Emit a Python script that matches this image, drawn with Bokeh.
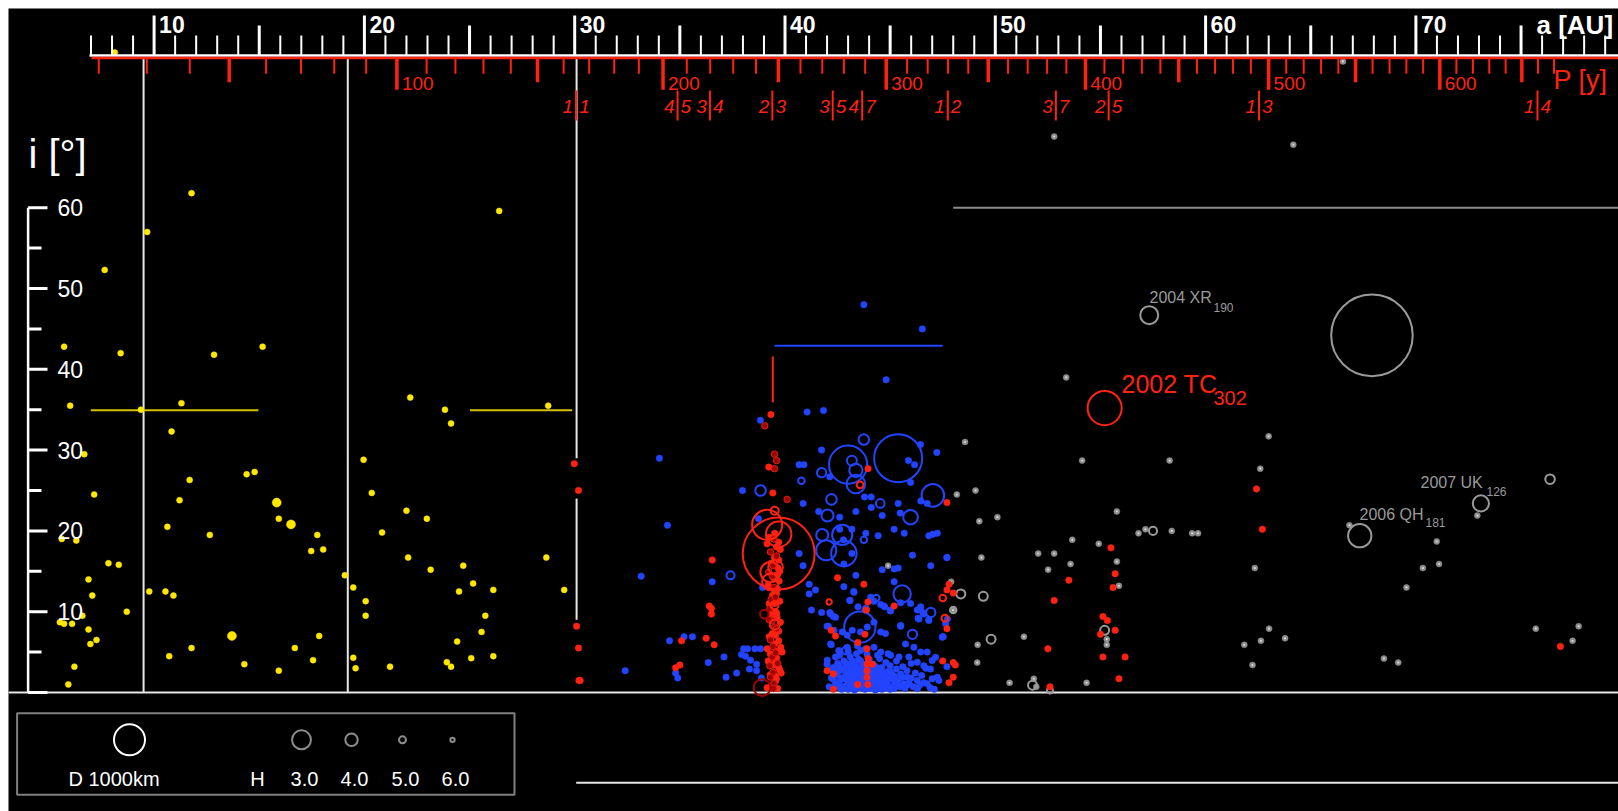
from bokeh.plotting import figure
from bokeh.models import Range1d
from bokeh.core.properties import value
from bokeh.embed import file_html
from bokeh.resources import INLINE

FONT = value("Liberation Sans")

# ---------------- data ----------------
# centaurs (yellow)
yel_a = [9.67, 11.78, 7.65, 5.72, 8.41, 6.01, 9.37, 11.30, 12.85, 15.16, 10.83, 6.68, 11.69, 14.40, 14.78,
         7.15, 11.21, 15.93, 10.63, 12.65, 17.76, 5.61, 6.30, 17.47, 18.04, 7.83, 8.32, 6.88, 19.07, 7.06,
         9.77, 10.54, 10.92, 19.47, 8.70, 6.59, 5.52, 5.72, 6.10, 6.88, 7.26, 6.97, 17.85, 16.69, 11.78,
         10.72, 14.29, 17.56, 15.93, 6.21, 5.92, 20.06, 20.06, 19.47, 19.58, 21.22, 26.41, 22.18, 23.83,
         24.12, 28.74, 19.96, 20.35, 22.00, 22.97, 20.84, 22.08, 23.15, 24.70, 28.65, 25.17, 24.50, 26.13,
         29.50, 25.75, 25.57, 24.41, 23.92, 24.12, 25.08, 26.13, 8.13]
yel_i = [57.0, 61.8, 52.3, 42.8, 42.0, 35.5, 35.0, 35.8, 41.8, 42.8, 32.3, 29.5, 26.3, 27.0, 27.3,
         24.5, 23.8, 21.5, 20.5, 19.5, 19.5, 19.0, 18.8, 17.5, 17.7, 16.0, 15.8, 14.0, 14.5, 12.0,
         12.5, 12.5, 12.0, 13.0, 10.0, 9.5, 8.7, 8.5, 8.5, 7.8, 6.5, 6.0, 7.0, 5.5, 5.5,
         4.5, 3.5, 4.0, 2.7, 3.2, 1.0, 11.3, 9.5, 4.3, 3.0, 3.2, 59.6, 36.5, 35.0,
         33.3, 35.5, 28.8, 24.7, 22.5, 21.5, 19.8, 16.7, 15.2, 15.7, 16.7, 13.5, 12.5, 12.7,
         12.7, 9.5, 7.5, 6.3, 3.75, 3.2, 4.25, 4.5, 79.2]
yel_big_a = [15.83, 16.51, 13.70]
yel_big_i = [23.5, 20.8, 7.0]

# resonant objects (red)
red_a = [29.98, 30.18, 30.09, 30.18, 30.20, 30.26,
         39.33, 39.23, 39.42, 36.54, 36.40, 36.50, 36.50, 36.25, 36.63, 35.08, 34.80, 35.00,
         42.50, 43.75, 43.95, 47.70, 43.94, 43.86, 45.19, 42.20, 42.40, 43.46, 43.90, 43.95,
         43.90, 44.15, 43.90, 43.90, 42.00, 42.30, 43.46, 43.94, 42.30, 47.80, 47.70, 48.00,
         47.70, 47.50, 48.00, 48.10, 48.00, 47.80, 43.80,
         55.50, 53.50, 55.70, 55.60, 52.80, 55.12, 55.33, 55.70, 55.00, 52.50, 55.12, 56.17,
         55.88, 52.60, 62.42, 62.70, 76.87,
         39.51, 39.70, 39.15, 39.78, 39.50, 39.70, 39.66, 39.55, 39.59, 39.51, 39.62, 39.78,
         39.55, 39.70, 39.15, 39.66, 39.86, 39.55, 39.70, 39.82, 39.59, 39.15,
         39.25, 39.60, 39.35, 39.75, 39.45, 39.20, 39.65, 39.40, 39.75, 39.25, 39.55, 39.35,
         39.70, 39.25, 39.50, 39.80, 39.30, 39.60, 39.20, 39.45, 39.75, 39.30, 39.55, 39.35,
         39.65, 39.50, 39.60, 39.40, 39.55, 39.72]
red_i = [28.3, 25.0, 8.2, 5.5, 1.5, 1.5,
         34.4, 27.9, 24.7, 16.4, 10.7, 10.4, 9.7, 6.7, 5.9, 6.4, 3.05, 3.4,
         14.2, 13.4, 27.7, 23.5, 11.2, 10.2, 10.7, 7.7, 7.0, 6.2, 5.4, 4.2,
         3.5, 3.5, 2.7, 1.9, 2.7, 2.3, 1.0, 1.0, 0.4, 13.4, 12.7, 12.3,
         7.9, 3.9, 3.7, 3.4, 1.9, 1.2, 7.2,
         17.9, 13.9, 14.7, 13.0, 11.4, 9.4, 8.9, 7.7, 7.2, 5.4, 4.4, 4.4,
         1.7, 0.7, 25.2, 20.2, 5.7,
         19.7, 18.6, 18.4, 17.7, 16.7, 16.4, 15.4, 14.5, 12.2, 11.0, 9.3, 8.7,
         7.1, 6.4, 5.4, 5.1, 5.0, 3.8, 3.1, 2.4, 1.7, 0.6,
         19.2, 18.0, 16.0, 15.0, 14.2, 13.3, 12.8, 12.0, 11.3, 11.0, 10.0, 9.6,
         7.6, 6.9, 6.0, 5.6, 4.8, 4.3, 3.9, 3.4, 2.8, 2.2, 1.4, 0.8,
         0.5, 12.6, 9.8, 7.3, 2.0, 13.8]
dred_a = [39.04, 39.50, 39.60, 39.50, 40.10, 39.47, 39.31, 39.43, 39.23, 39.47, 39.34, 39.28,
          39.39, 39.50, 39.31, 39.43, 39.39, 39.28, 39.43, 39.31, 39.47,
          39.60, 39.40, 39.55, 39.60, 39.55, 39.65, 39.25, 39.45]
dred_i = [33.0, 29.5, 28.7, 27.7, 23.9, 19.0, 17.4, 15.7, 14.9, 13.0, 11.5, 10.4,
          8.9, 8.1, 6.5, 5.7, 4.4, 3.3, 2.5, 1.9, 1.1,
          16.9, 14.4, 11.8, 7.9, 4.9, 3.6, 9.0, 0.5]

# classical objects (blue)
blue_a = [34.03, 34.41, 33.16, 32.40, 34.51, 35.20, 35.60, 34.80, 34.90, 36.35, 37.10, 37.20, 37.70,
          36.54, 37.98, 38.03, 38.22, 38.57, 38.84, 37.93, 38.12, 38.36, 38.65, 38.65, 38.88, 38.31,
          38.74, 38.93, 41.05, 41.83, 41.74, 42.13, 40.67, 40.90, 40.86, 41.60, 40.67, 40.86, 41.15,
          41.45, 41.15, 41.26, 41.74, 42.13, 42.30, 42.00, 42.20, 42.00, 42.40, 42.60, 43.37, 43.78,
          44.10, 44.10, 44.62, 45.19, 45.67, 45.38, 45.48, 46.44, 47.22, 45.87, 46.16, 45.97, 46.46,
          46.76, 46.84, 47.03, 47.24, 46.06, 46.93, 47.70, 44.62, 45.19, 45.38, 45.19, 42.60, 43.18,
          42.78, 43.18, 42.80, 43.84, 44.43, 43.37, 43.27, 43.08, 44.70, 45.00, 45.50, 45.97, 46.44,
          46.55, 46.33, 46.84, 47.52, 43.75, 46.53, 44.81, 38.83,
          42.80, 43.28, 43.09, 43.47, 44.07, 44.23, 44.55, 44.74, 45.02, 45.50, 46.29, 46.45, 46.60,
          46.84, 46.37, 42.17, 42.40, 42.06, 42.33, 42.72, 42.96, 43.20, 43.59, 43.91, 44.23, 44.55,
          44.78, 45.50, 45.73, 46.13, 46.45, 46.76, 47.00, 47.16, 47.48, 47.64, 47.72, 42.17, 42.01,
          42.56, 42.96, 43.44, 43.83, 44.23, 44.55, 45.02, 45.42, 45.89, 46.29, 46.60, 46.92, 47.24,
          47.32, 46.76, 46.29, 45.81, 45.66, 45.34, 47.70, 47.50, 47.70,
          42.3, 42.3, 42.3, 42.5, 42.5, 42.5, 42.6, 42.7, 42.7, 42.8, 42.8, 42.9, 42.9, 43.0, 43.0,
          43.1, 43.1, 43.1, 43.2, 43.2, 43.3, 43.3, 43.3, 43.4, 43.4, 43.4, 43.5, 43.5, 43.6, 43.6,
          43.6, 43.7, 43.7, 43.8, 43.8, 43.8, 43.9, 44.0, 44.0, 44.1, 44.1, 44.1, 44.2, 44.2, 44.3,
          44.3, 44.4, 44.4, 44.5, 44.5, 44.5, 44.6, 44.6, 44.7, 44.7, 44.8, 44.8, 44.9, 44.9, 45.0,
          45.0, 45.1, 45.1, 45.2, 45.3, 45.4, 45.5, 45.6, 45.7, 45.8, 45.9, 46.0, 46.1, 46.2, 46.4,
          46.5, 46.7, 46.9, 47.0, 47.1, 43.0, 43.6, 44.4, 44.9, 42.6, 43.9, 45.3,
          42.4, 42.4, 42.6, 42.6, 42.7, 42.8, 42.8, 42.9, 42.9, 43.0, 43.0, 43.1, 43.1, 43.2, 43.2,
          43.2, 43.3, 43.3, 43.4, 43.4, 43.4, 43.5, 43.5, 43.5, 43.6, 43.6, 43.7, 43.7, 43.7, 43.8,
          43.8, 43.9, 43.9, 44.0, 44.0, 44.0, 44.1, 44.2, 44.2, 44.2, 44.3, 44.3, 44.4, 44.4, 44.5,
          44.5, 44.6, 44.6, 44.7, 44.8, 44.8, 44.9, 45.0, 45.0, 45.2, 45.2, 45.4, 45.5, 45.6, 45.8,
          46.0, 46.3, 46.6, 42.2, 42.2, 42.1]
blue_i = [29.0, 20.7, 14.4, 2.7, 6.4, 6.9, 6.9, 2.4, 1.8, 3.7, 4.4, 1.9, 2.4,
          13.7, 25.0, 5.4, 5.4, 5.4, 5.4, 4.7, 4.5, 4.0, 3.5, 2.7, 1.8, 2.9,
          21.5, 13.0, 34.7, 34.9, 30.0, 26.7, 28.2, 28.2, 23.4, 22.4, 17.2, 15.7, 13.4,
          12.7, 12.2, 10.2, 9.9, 9.9, 9.4, 8.2, 5.9, 3.5, 4.4, 21.7, 22.4, 24.2,
          24.2, 22.9, 21.9, 20.2, 19.7, 23.4, 22.2, 30.7, 29.7, 28.7, 28.2, 26.0, 23.7,
          23.4, 19.4, 19.6, 19.7, 17.0, 15.7, 16.7, 15.2, 15.3, 15.4, 13.7, 20.2, 20.2,
          18.9, 17.2, 15.9, 19.7, 19.4, 14.5, 12.5, 11.4, 10.7, 10.2, 8.2, 11.0, 10.5,
          9.9, 9.2, 9.0, 6.9, 48.0, 45.0, 38.7, 33.7,
          13.1, 12.4, 11.4, 10.6, 11.8, 11.3, 10.9, 10.6, 10.1, 11.1, 10.2, 10.6, 9.7,
          8.9, 9.1, 9.7, 9.3, 8.2, 7.7, 7.5, 7.1, 7.7, 7.5, 8.1, 8.7, 7.5,
          7.3, 8.3, 6.0, 5.6, 5.0, 5.0, 3.96, 4.37, 6.85, 8.5, 9.1, 6.0, 4.0,
          5.2, 5.6, 5.8, 5.4, 5.6, 5.0, 4.6, 4.4, 4.4, 3.75, 3.3, 2.9, 1.9,
          1.5, 1.07, 1.5, 1.9, 1.07, 1.5, 16.7, 6.9, 3.2,
          0.5, 1.6, 3.1, 0.9, 2.2, 3.6, 1.4, 0.4, 2.8, 1.9, 3.9, 0.8, 2.5, 1.3, 3.3,
          0.5, 2.0, 4.4, 1.1, 2.7, 0.3, 1.7, 3.6, 0.9, 2.3, 4.8, 1.4, 3.0, 0.6, 2.0,
          3.9, 1.2, 2.6, 0.4, 1.7, 3.2, 0.9, 2.1, 4.1, 0.6, 1.5, 2.9, 1.0, 3.5, 0.3,
          2.2, 1.3, 2.8, 0.7, 1.9, 4.2, 1.1, 3.1, 0.5, 2.4, 1.5, 3.7, 0.9, 2.6, 1.8,
          3.3, 0.6, 2.2, 1.3, 2.9, 0.8, 2.3, 3.2, 0.5, 2.7, 1.2, 3.6, 0.7, 2.4, 0.9,
          2.1, 3.0, 0.6, 1.7, 0.4, 5.0, 5.2, 4.6, 4.8, 4.6, 4.7, 3.9,
          1.0, 2.6, 0.6, 3.2, 1.7, 0.7, 2.9, 1.6, 3.6, 0.4, 2.3, 1.6, 3.0, 0.6, 2.0,
          3.9, 1.2, 2.6, 0.5, 1.8, 3.2, 0.8, 2.2, 4.1, 1.5, 2.9, 0.5, 1.9, 3.5, 1.1,
          2.4, 1.5, 3.0, 0.5, 1.2, 3.3, 2.2, 0.5, 1.8, 2.6, 1.0, 3.2, 0.5, 2.0, 1.3,
          3.0, 0.4, 2.3, 1.4, 0.6, 2.0, 1.6, 0.4, 2.6, 0.5, 2.0, 1.6, 0.7, 1.9, 0.9,
          1.8, 0.5, 1.2, 1.8, 2.8, 0.7]

# scattered objects (gray)
gray_a = [48.56, 54.13, 58.29, 62.60, 48.17, 49.06, 49.24, 50.10, 55.78, 53.66, 54.92, 52.04, 52.80,
          52.51, 53.58, 49.34, 55.78, 55.88, 47.90, 47.99, 51.36, 49.16, 49.14, 50.68, 51.83, 51.95,
          54.34, 55.30, 55.30, 56.81, 57.14, 58.39, 59.36, 59.64, 62.34, 63.02, 62.63, 61.84, 63.78,
          62.23, 66.84, 70.99, 71.10, 70.33, 69.55, 72.92, 68.48, 69.16, 75.70, 77.74, 77.45, 52.80,
          64.17, 53.37, 63.00, 44.90, 66.53]
gray_i = [31.0, 28.7, 28.7, 27.7, 24.5, 25.0, 21.2, 21.7, 22.4, 18.9, 18.4, 17.2, 17.2,
          15.2, 15.9, 16.7, 16.2, 13.2, 13.7, 10.2, 6.9, 5.9, 3.7, 1.2, 1.7, 0.7,
          1.2, 6.6, 5.9, 19.7, 20.2, 20.0, 19.7, 19.7, 15.4, 7.9, 6.4, 5.9, 6.7,
          3.4, 20.7, 18.7, 15.9, 15.4, 13.0, 21.9, 4.2, 3.7, 7.9, 8.2, 6.4, 68.8,
          67.8, 39.0, 31.7, 15.7, 78.1]

# large bodies drawn as rings, diameter D [km]
red_ring_a = [39.70, 39.15, 39.70, 39.51, 39.55, 39.31, 39.31, 39.50, 39.51, 42.10, 43.57, 47.50, 47.60, 55.20]
red_ring_i = [17.2, 20.75, 19.6, 22.5, 15.5, 14.9, 13.7, 10.8, 8.4, 11.2, 25.7, 11.7, 9.2, 35.2]
red_ring_d = [2320, 970, 820, 260, 470, 650, 540, 260, 320, 170, 215, 215, 215, 1100]
dred_ring_a = [39.02, 38.91]
dred_ring_i = [9.7, 0.6]
dred_ring_d = [280, 540]
blue_ring_a = [43.00, 45.38, 43.56, 43.18, 43.37, 43.37, 43.75, 47.03, 45.97, 44.53, 42.21, 42.02, 41.74,
               40.78, 42.72, 41.96, 42.80, 41.77, 43.75, 45.57, 46.93, 46.06, 44.34, 43.84, 42.91, 38.84, 37.41]
blue_ring_i = [28.2, 29.0, 8.1, 28.7, 27.5, 25.8, 31.3, 24.4, 21.7, 23.4, 23.9, 21.9, 27.2,
               26.2, 19.5, 17.6, 17.2, 19.5, 18.9, 12.2, 9.9, 7.2, 11.7, 10.3, 5.2, 25.0, 14.5]
blue_ring_d = [1230, 1550, 1010, 320, 430, 600, 340, 730, 470, 280, 340, 390, 300,
               210, 650, 650, 820, 390, 210, 560, 300, 300, 210, 210, 260, 340, 260]
gray_ring_a = [67.91, 57.32, 67.33, 73.09, 76.38, 57.50, 48.36, 49.43, 48.00, 49.80, 55.20, 51.77, 52.60]
gray_ring_i = [44.2, 46.7, 19.4, 23.4, 26.4, 20.0, 12.2, 11.9, 10.2, 6.6, 7.7, 0.9, 0.25]
gray_ring_d = [2630, 580, 750, 520, 310, 260, 290, 290, 210, 290, 290, 290, 190]

# axes / reference values
planet_a = [9.50, 19.21, 30.09]          # Saturn, Uranus, Neptune
res_a = [30.07, 34.89, 36.43, 39.40, 42.27, 43.67, 47.74, 52.88, 55.39, 62.54, 75.78]
res_num = ["1", "4", "3", "2", "3", "4", "1", "3", "2", "1", "1"]
res_den = ["1", "5", "4", "3", "5", "7", "2", "7", "5", "3", "4"]
h_labels = ["3.0", "4.0", "5.0", "6.0"]
h_diam = [610, 400, 225, 140]

# ---------------- figure ----------------
MARGIN = 8
FW, FH = 1610, 803
PX_AU, PX_DEG = 21.03, 8.08
X0 = 10 - 145.6 / PX_AU
X1 = X0 + FW / PX_AU
Y1 = 684 / PX_DEG
Y0 = Y1 - FH / PX_DEG
KM_PX = 0.031  # marker diameter in px per km


def ax(px):
    return X0 + (px - MARGIN) / PX_AU


def iy(py):
    return Y1 - (py - MARGIN) / PX_DEG


def dx(px):
    return px / PX_AU


p = figure(width=FW + MARGIN, height=FH + MARGIN, x_range=Range1d(X0, X1), y_range=Range1d(Y0, Y1),
           output_backend="svg", toolbar_location=None,
           min_border_left=MARGIN, min_border_top=MARGIN, min_border_right=0, min_border_bottom=0,
           x_axis_location=None, y_axis_location=None,
           background_fill_color="black", border_fill_color="white", outline_line_color=None)
for g in p.grid:
    g.visible = False

WHITE = "#ffffff"
LINEW = "#e6e6e6"
RED = "#ff2212"
DRED = "#a00000"
BLUE = "#2244ff"
YEL = "#ffe800"
GRAY = "#9a9a9a"

# ---- reference lines ----
yb = iy(58)
p.segment(x0=planet_a[:2], y0=[yb, yb], x1=planet_a[:2], y1=[0, 0], line_color=LINEW, line_width=2)
p.segment(x0=[planet_a[2]] * 2, y0=[yb, 24.0], x1=[planet_a[2]] * 2, y1=[29.0, 9.0], line_color=LINEW, line_width=2)
p.segment(x0=[6.99, 25.02], y0=[34.94, 34.94], x1=[14.96, 29.88], y1=[34.94, 34.94], line_color="#d2c200", line_width=2)
p.segment(x0=[39.42], y0=[35.9], x1=[39.42], y1=[41.6], line_color=RED, line_width=2)
p.segment(x0=[39.5], y0=[42.9], x1=[47.5], y1=[42.9], line_color=BLUE, line_width=2)
p.segment(x0=[48.0], y0=[60.0], x1=[X1], y1=[60.0], line_color="#8c8c8c", line_width=2)
p.segment(x0=[X0], y0=[0], x1=[X1], y1=[0], line_color=LINEW, line_width=2)
p.segment(x0=[30.07], y0=[-11.18], x1=[X1], y1=[-11.18], line_color=LINEW, line_width=2)

# ---- data points ----
p.scatter(yel_a, yel_i, size=6, fill_color=YEL, line_color=YEL, line_width=0.5)
p.scatter(yel_big_a, yel_big_i, size=9, fill_color=YEL, line_color=YEL, line_width=0.5)

p.scatter(gray_a, gray_i, size=6, fill_color="#8e8e8e", line_color="#8e8e8e", line_width=0.5)
p.scatter(gray_a, gray_i, size=2.2, fill_color="#d8d8d8", line_color=None)
p.scatter(gray_ring_a, gray_ring_i, size=[d * KM_PX for d in gray_ring_d], fill_color=None,
          line_color=GRAY, line_width=2)

p.scatter(blue_a, blue_i, size=6.5, fill_color=BLUE, line_color=BLUE, line_width=0.5)
p.scatter(blue_ring_a, blue_ring_i, size=[d * KM_PX for d in blue_ring_d], fill_color=None,
          line_color=BLUE, line_width=2)

p.scatter(red_a, red_i, size=6.5, fill_color=RED, line_color=RED, line_width=0.5)
p.scatter(dred_a, dred_i, size=6.5, fill_color=DRED, line_color="#e02010", line_width=1)
p.scatter(red_ring_a, red_ring_i, size=[d * KM_PX for d in red_ring_d], fill_color=None,
          line_color=RED, line_width=2)
p.scatter(dred_ring_a, dred_ring_i, size=[d * KM_PX for d in dred_ring_d], fill_color=None,
          line_color=DRED, line_width=2)


def label(xpx, ypx, txt, color, size, align="left", style="normal"):
    # ypx is the vertical centre of the text, in page pixels
    p.text(x=[ax(xpx)], y=[iy(ypx)], text=[txt], text_font=FONT, text_font_size=size,
           text_font_style=style, text_color=color, text_align=align, text_baseline="middle")


# ---- named objects ----
label(1149, 297, "2004 XR", GRAY, "16px")
label(1213, 306.5, "190", GRAY, "12px")
label(1121, 383.5, "2002 TC", RED, "25px")
label(1213, 397, "302", RED, "20px")
label(1359, 513.5, "2006 QH", GRAY, "16px")
label(1425, 522, "181", GRAY, "12px")
label(1420, 481.5, "2007 UK", GRAY, "16px")
label(1486, 491, "126", GRAY, "12px")

# ---- top a axis ----
ya = iy(55)
p.segment(x0=[ax(89)], y0=[ya], x1=[X1], y1=[ya], line_color=WHITE, line_width=2.5)
a_ticks = list(range(7, 80))
minor = [a for a in a_ticks if a % 5 != 0]
mid = [a for a in a_ticks if a % 5 == 0 and a % 10 != 0]
major = [a for a in a_ticks if a % 10 == 0]
p.segment(x0=minor, y0=[ya] * len(minor), x1=minor, y1=[iy(35)] * len(minor), line_color=WHITE, line_width=2)
p.segment(x0=mid, y0=[ya] * len(mid), x1=mid, y1=[iy(25)] * len(mid), line_color=WHITE, line_width=3)
p.segment(x0=major, y0=[ya] * len(major), x1=major, y1=[iy(15)] * len(major), line_color=WHITE, line_width=3)
p.text(x=[a + dx(5) for a in major], y=[iy(24)] * len(major), text=[str(a) for a in major],
       text_font=FONT, text_font_size="23px", text_font_style="bold", text_color=WHITE,
       text_align="left", text_baseline="middle")
label(1536, 24.5, "a [AU]", WHITE, "26px", style="bold")

# ---- P axis (red) ----
yp = iy(57.5)
p.segment(x0=[ax(91)], y0=[yp], x1=[X1], y1=[yp], line_color=RED, line_width=2.5)
P_ticks = list(range(20, 680, 10))
p_minor = [P ** (2 / 3) for P in P_ticks if P % 50 != 0]
p_mid = [P ** (2 / 3) for P in P_ticks if P % 50 == 0 and P % 100 != 0]
p_major_P = [P for P in P_ticks if P % 100 == 0]
p_major = [P ** (2 / 3) for P in p_major_P]
p.segment(x0=p_minor, y0=[yp] * len(p_minor), x1=p_minor, y1=[iy(73.3)] * len(p_minor), line_color=RED, line_width=2)
p.segment(x0=p_mid, y0=[yp] * len(p_mid), x1=p_mid, y1=[iy(81.7)] * len(p_mid), line_color=RED, line_width=3.5)
p.segment(x0=p_major, y0=[yp] * len(p_major), x1=p_major, y1=[iy(89.3)] * len(p_major), line_color=RED, line_width=3.5)
p.text(x=[a + dx(5) for a in p_major], y=[iy(83)] * len(p_major), text=[str(P) for P in p_major_P],
       text_font=FONT, text_font_size="19px", text_color=RED, text_align="left", text_baseline="middle")
label(1553, 79.5, "P [y]", RED, "27px")

# ---- resonances ----
p.segment(x0=res_a, y0=[iy(90)] * len(res_a), x1=res_a, y1=[iy(120)] * len(res_a), line_color=RED, line_width=2)
p.text(x=[a - dx(3) for a in res_a], y=[iy(106)] * len(res_a), text=res_num, text_font=FONT,
       text_font_size="19px", text_font_style="italic", text_color=RED, text_align="right", text_baseline="middle")
p.text(x=[a + dx(3) for a in res_a], y=[iy(106)] * len(res_a), text=res_den, text_font=FONT,
       text_font_size="19px", text_font_style="italic", text_color=RED, text_align="left", text_baseline="middle")

# ---- i axis ----
xl = ax(27.6)
p.segment(x0=[xl], y0=[0], x1=[xl], y1=[60], line_color=WHITE, line_width=2.5)
i_ticks = list(range(0, 65, 5))
p.segment(x0=[xl] * len(i_ticks), y0=i_ticks,
          x1=[ax(47) if t % 10 == 0 else ax(41) for t in i_ticks], y1=i_ticks,
          line_color=WHITE, line_width=3)
i_lab = [t for t in i_ticks if t % 10 == 0 and t > 0]
p.text(x=[ax(57)] * len(i_lab), y=i_lab, text=[str(t) for t in i_lab], text_font=FONT,
       text_font_size="23px", text_color=WHITE, text_align="left", text_baseline="middle")
label(28, 153, "i [°]", WHITE, "40px")

# ---- legend ----
p.quad(left=[ax(16.6)], right=[ax(514)], top=[iy(712.7)], bottom=[iy(794.3)],
       fill_color=None, line_color="#808080", line_width=2)
p.scatter([ax(129)], [iy(739.3)], size=1000 * KM_PX, fill_color=None, line_color=WHITE, line_width=2)
label(113.5, 778, "D 1000km", WHITE, "20px", align="center")
label(257, 778, "H", WHITE, "20px", align="center")
hx = [301, 351, 402, 452]
p.scatter([ax(x) for x in hx], [iy(739.3)] * 4, size=[d * KM_PX for d in h_diam],
          fill_color=None, line_color="#8c8c8c", line_width=2)
p.text(x=[ax(x + 3) for x in hx], y=[iy(778)] * 4, text=h_labels, text_font=FONT,
       text_font_size="20px", text_color=WHITE, text_align="center", text_baseline="middle")

open("out.html", "w").write(file_html(p, INLINE))
